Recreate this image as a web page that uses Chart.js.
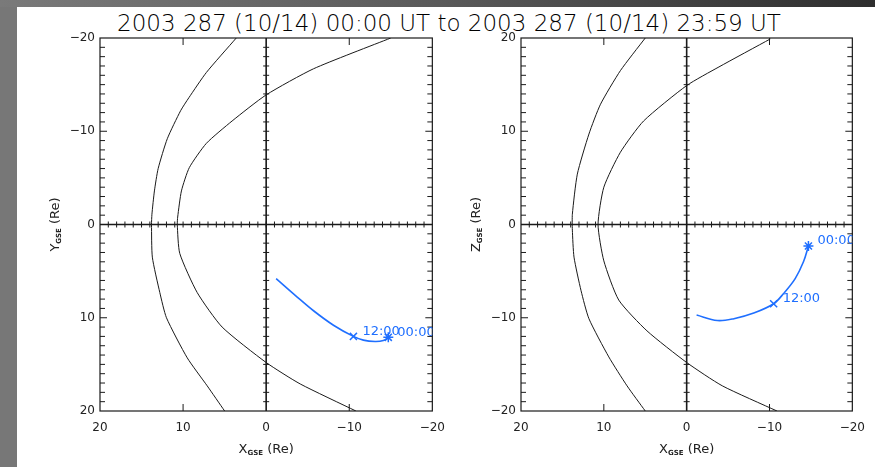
<!DOCTYPE html>
<html><head><meta charset="utf-8">
<script src="https://cdn.jsdelivr.net/npm/chart.js@4.4.1/dist/chart.umd.min.js"></script>
<style>
html,body{margin:0;padding:0;background:#fff;width:875px;height:467px;overflow:hidden;position:relative}
#lstrip{position:absolute;left:0;top:0;width:17px;height:467px;background:#777}
#tstrip{position:absolute;left:0;top:0;width:875px;height:7px;background:linear-gradient(to right,#7a7a7a,#5a5a5a 50%,#2e2e2e)}
#title{position:absolute;left:0;width:898px;top:12px;text-align:center;font-family:"DejaVu Sans ExtraLight","DejaVu Sans";font-weight:200;font-size:23px;line-height:23px;color:#000;white-space:nowrap}
canvas{position:absolute;top:0}
</style></head>
<body>
<div id="lstrip"></div><div id="tstrip"></div>
<div id="title">2003 287 (10/14) 00:00 UT to 2003 287 (10/14) 23:59 UT</div>
<canvas id="c1" width="455" height="467" style="left:0px"></canvas>
<canvas id="c2" width="435" height="467" style="left:440px"></canvas>
<script>
// ---- tick values / labels ----
const xTickValues = [20, 10, 0, -10, -20];
const xTickLabels = ['20', '10', '0', '\u221210', '\u221220'];
const yTickValuesL = [-20, -10, 0, 10, 20];
const yTickLabelsL = ['\u221220', '\u221210', '0', '10', '20'];
const zTickValues = [20, 10, 0, -10, -20];
const zTickLabels = ['20', '10', '0', '\u221210', '\u221220'];

// ---- axis titles ----
const xTitle = ['X', 'GSE', ' (Re)'];
const yTitle = ['Y', 'GSE', ' (Re)'];
const zTitle = ['Z', 'GSE', ' (Re)'];

// ---- bow shock / magnetopause, X-Y plane ----
const bowL_X = [3.6, 7.2, 9.3, 10.3, 11.9, 13.0, 13.45, 13.75, 13.8, 13.7, 12.8, 12.0, 9.5, 7.1, 5.0];
const bowL_Y = [-20, -16.3, -13.6, -12.2, -9.2, -6.0, -3.6, -1.1, 0, 3.5, 7.3, 10.0, 14.3, 17.3, 20];
const mpL_X = [-15.0, -5.7, 0, 4.1, 7.2, 9.25, 10.2, 10.65, 10.7, 10.4, 8.3, 5.3, 0, -4.1, -10.8];
const mpL_Y = [-20, -16.7, -13.9, -11.1, -8.7, -6.1, -3.6, -0.8, 0, 3.1, 7.3, 11.0, 14.8, 17.1, 20];

// ---- bow shock / magnetopause, X-Z plane ----
const bowR_X = [5.0, 8.0, 10.4, 11.8, 13.2, 13.8, 13.8, 13.6, 12.75, 11.8, 9.4, 7.2, 5.0];
const bowR_Z = [20, 16.5, 12.9, 9.7, 5.4, 1.1, -0.6, -3.5, -7.1, -10.1, -14.2, -17.3, -20];
const mpR_X = [-10.1, -3.9, 0, 5.2, 8.0, 10.0, 10.7, 10.0, 8.2, 4.8, 0, -4.3, -10.9];
const mpR_Z = [19.9, 16.9, 14.9, 11.1, 7.75, 4.0, 0, -3.9, -8.1, -11.4, -14.8, -17.3, -20];

// ---- spacecraft trajectory (00:00 -> 23:59) ----
const trajX = [-14.7, -14.1, -13.1, -11.7, -10.5, -8.1, -5.7, -3.7, -1.2];
const trajY = [12.1, 12.45, 12.55, 12.4, 12.0, 10.8, 9.25, 7.75, 5.8];
const trajZ = [-2.3, -4.0, -5.8, -7.4, -8.5, -9.5, -10.1, -10.3, -9.7];
const markIdx = [0, 4];
const markLabels = ['00:00', '12:00'];
const markStyles = ['star', 'crossRot'];

const BLUE = '#1f6fff';
const INK = '#1a1a1a';
const FONT = '"DejaVu Sans"';

function pts(xs, ys) { return xs.map((v, i) => ({x: v, y: ys[i]})); }

function drawAxisTitle(ctx, parts, cx, cy, rotate) {
  ctx.save();
  ctx.translate(cx, cy);
  if (rotate) ctx.rotate(-Math.PI / 2);
  const mf = '13px ' + FONT, sf = 'bold 7px ' + FONT;
  ctx.font = mf; const w1 = ctx.measureText(parts[0]).width; const w3 = ctx.measureText(parts[2]).width;
  ctx.font = sf; const w2 = ctx.measureText(parts[1]).width;
  let x = -(w1 + w2 + w3) / 2;
  ctx.fillStyle = '#222'; ctx.textBaseline = 'alphabetic'; ctx.textAlign = 'left';
  ctx.font = mf; ctx.fillText(parts[0], x, 5); x += w1;
  ctx.font = sf; ctx.fillText(parts[1], x, 7); x += w2;
  ctx.font = mf; ctx.fillText(parts[2], x, 5);
  ctx.restore();
}

function decorPlugin(vTitle, vals2) {
  return {
    id: 'decor',
    beforeDatasetsDraw(chart) {
      const {ctx, chartArea: a, scales: {x, y}} = chart;
      ctx.save();
      ctx.strokeStyle = INK;
      ctx.lineWidth = 1.2;
      ctx.strokeRect(a.left, a.top, a.right - a.left, a.bottom - a.top);
      const x0 = x.getPixelForValue(0), y0 = y.getPixelForValue(0);
      ctx.lineWidth = 1.6;
      ctx.beginPath();
      ctx.moveTo(x0, a.top); ctx.lineTo(x0, a.bottom);
      ctx.moveTo(a.left, y0); ctx.lineTo(a.right, y0);
      ctx.stroke();
      ctx.lineWidth = 1;
      ctx.beginPath();
      for (let v = -19; v <= 19; v++) {
        const py = y.getPixelForValue(v), len = (v % 10 === 0) ? 7 : 5;
        ctx.moveTo(a.left, py); ctx.lineTo(a.left + len, py);
        ctx.moveTo(a.right, py); ctx.lineTo(a.right - len, py);
        ctx.moveTo(x0 - 3, py); ctx.lineTo(x0 + 3, py);
        const px = x.getPixelForValue(v);
        ctx.moveTo(px, y0 - 3); ctx.lineTo(px, y0 + 3);
      }
      for (const v of [-10, 10]) {
        const px = x.getPixelForValue(v);
        ctx.moveTo(px, a.top); ctx.lineTo(px, a.top + 7);
        ctx.moveTo(px, a.bottom); ctx.lineTo(px, a.bottom - 7);
      }
      ctx.stroke();
      ctx.restore();
    },
    afterDatasetsDraw(chart) {
      const {ctx, chartArea: a, scales: {x, y}} = chart;
      ctx.save();
      ctx.beginPath(); ctx.rect(a.left, a.top, a.right - a.left, a.bottom - a.top); ctx.clip();
      ctx.fillStyle = BLUE; ctx.font = '13px ' + FONT; ctx.textBaseline = 'middle'; ctx.textAlign = 'left';
      markIdx.forEach((idx, k) => {
        const px = x.getPixelForValue(trajX[idx]) + 9;
        const py = y.getPixelForValue(vals2[idx]) - 5;
        ctx.fillText(markLabels[k], px, py);
      });
      ctx.restore();
    },
    afterDraw(chart) {
      const {ctx, chartArea: a} = chart;
      drawAxisTitle(ctx, xTitle, (a.left + a.right) / 2, 448, false);
      drawAxisTitle(ctx, vTitle, a.left - 46, (a.top + a.bottom) / 2, true);
    }
  };
}

function makeChart(id, bx, by, mx, my, yVals, yTickV, yTickL, yReverse, yWidth, padRight, vTitle) {
  const curve = (d) => ({data: d, showLine: true, pointRadius: 0, borderColor: INK, borderWidth: 1, tension: 0.2, fill: false});
  const datasets = [
    curve(pts(bx, by)),
    curve(pts(mx, my)),
    {data: pts(trajX, yVals), showLine: true, pointRadius: 0, borderColor: BLUE, borderWidth: 1.6, tension: 0.35, fill: false}
  ];
  markIdx.forEach((idx, k) => {
    datasets.push({data: [{x: trajX[idx], y: yVals[idx]}], showLine: false, pointStyle: markStyles[k],
      pointRadius: 5, borderColor: BLUE, backgroundColor: BLUE, pointBorderWidth: 1.5, clip: false});
  });
  const tickFont = {family: 'DejaVu Sans', size: 12};
  return new Chart(document.getElementById(id), {
    type: 'scatter',
    data: {datasets},
    options: {
      responsive: false, animation: false, devicePixelRatio: 1,
      layout: {padding: {top: 38, left: 0, right: padRight, bottom: 0}},
      plugins: {legend: {display: false}, tooltip: {enabled: false}},
      scales: {
        x: {
          type: 'linear', min: -20, max: 20, reverse: true,
          afterBuildTicks: s => { s.ticks = xTickValues.map(v => ({value: v})); },
          afterFit: s => { s.height = 56; },
          ticks: {callback: v => xTickLabels[xTickValues.indexOf(v)], font: tickFont, color: '#222', padding: 10, maxRotation: 0, autoSkip: false},
          grid: {display: false, drawTicks: false}, border: {display: false}
        },
        y: {
          type: 'linear', min: -20, max: 20, reverse: yReverse,
          afterBuildTicks: s => { s.ticks = yTickV.map(v => ({value: v})); },
          afterFit: s => { s.width = yWidth; },
          ticks: {callback: v => yTickL[yTickV.indexOf(v)], font: tickFont, color: '#222', padding: 5, autoSkip: false},
          grid: {display: false, drawTicks: false}, border: {display: false}
        }
      }
    },
    plugins: [decorPlugin(vTitle, yVals)]
  });
}

makeChart('c1', bowL_X, bowL_Y, mpL_X, mpL_Y, trajY, yTickValuesL, yTickLabelsL, true, 100, 20, yTitle);
makeChart('c2', bowR_X, bowR_Z, mpR_X, mpR_Z, trajZ, zTickValues, zTickLabels, false, 81, 18, zTitle);
</script>
</body></html>
